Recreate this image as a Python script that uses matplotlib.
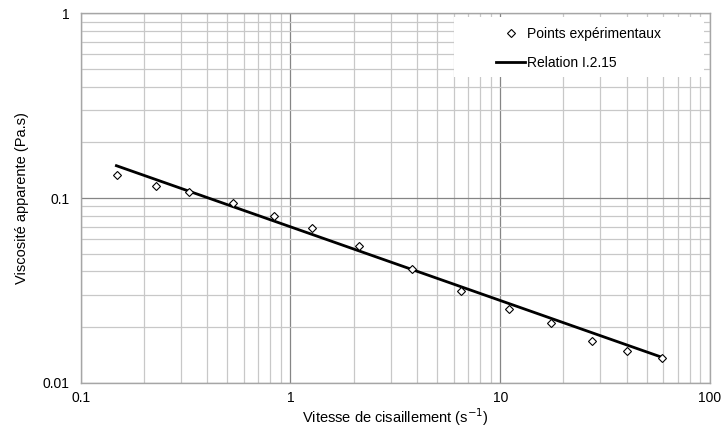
import matplotlib
matplotlib.use("Agg")
import matplotlib.pyplot as plt
from matplotlib.patches import Rectangle
from matplotlib.ticker import LogLocator, FixedLocator, FixedFormatter, NullFormatter

plt.rcParams['font.family'] = ['Liberation Sans', 'DejaVu Sans']

# Experimental shear-rate / apparent-viscosity points
shear_rate = [0.149, 0.229, 0.329, 0.532, 0.837, 1.27, 2.13, 3.80,
              6.51, 11.0, 17.4, 27.5, 40.4, 59.3]
viscosity = [0.133, 0.116, 0.108, 0.0936, 0.0799, 0.069, 0.055, 0.0413,
             0.0315, 0.0250, 0.0210, 0.0168, 0.0149, 0.01366]

# Power-law relation (straight line in log-log), end points
relation_x = [0.148, 59.3]
relation_y = [0.1496, 0.0137]

x_ticks = [0.1, 1, 10, 100]
x_labels = ['0.1', '1', '10', '100']
y_ticks = [0.01, 0.1, 1]
y_labels = ['0.01', '0.1', '1']

fig = plt.figure(figsize=(7.23, 4.33), dpi=100)
ax = fig.add_axes([80.7 / 723, 1 - 382.7 / 433, (710 - 80.7) / 723, (382.7 - 13.3) / 433])

ax.set_xscale('log')
ax.set_yscale('log')
ax.set_xlim(0.1, 100)
ax.set_ylim(0.01, 1)

ax.xaxis.set_major_locator(FixedLocator(x_ticks))
ax.xaxis.set_major_formatter(FixedFormatter(x_labels))
ax.yaxis.set_major_locator(FixedLocator(y_ticks))
ax.yaxis.set_major_formatter(FixedFormatter(y_labels))
ax.xaxis.set_minor_locator(LogLocator(base=10, subs=range(2, 10), numticks=20))
ax.yaxis.set_minor_locator(LogLocator(base=10, subs=range(2, 10), numticks=20))
ax.xaxis.set_minor_formatter(NullFormatter())
ax.yaxis.set_minor_formatter(NullFormatter())

ax.grid(which='major', color='#858585', linewidth=0.9)
ax.grid(which='minor', color='#c8c8c8', linewidth=0.9)
ax.set_axisbelow(True)
ax.tick_params(which='both', length=0, labelsize=10, colors='black')
ax.tick_params(axis='x', pad=6)
ax.tick_params(axis='y', pad=8)

for side in ['left', 'bottom', 'right', 'top']:
    ax.spines[side].set_color('#a6a6a6')
    ax.spines[side].set_linewidth(1.0)

line, = ax.plot(relation_x, relation_y, color='black', linewidth=2.0, zorder=3,
                label='Relation I.2.15')
pts, = ax.plot(shear_rate, viscosity, linestyle='none', marker='D', markersize=3.8,
               markerfacecolor='white', markeredgecolor='black', markeredgewidth=0.8,
               zorder=4, label='Points expérimentaux')

ax.set_xlabel('Vitesse de cisaillement (s$^{-1}$)', fontsize=10.5, labelpad=1)
ax.set_ylabel('Viscosité apparente (Pa.s)', fontsize=10.5, labelpad=10)

# White panel behind the legend
ax.add_patch(Rectangle((0.5926, 0.8276), 0.3979, 0.1624, transform=ax.transAxes,
                       facecolor='white', edgecolor='none', zorder=5))
leg = ax.legend(handles=[pts, line], loc='upper left', bbox_to_anchor=(0.66, 0.963),
                frameon=False, fontsize=10, handlelength=2.1, handletextpad=0.15,
                labelspacing=1.1, borderpad=0, borderaxespad=0)
leg.set_zorder(6)

fig.savefig('out.png', dpi=100)
